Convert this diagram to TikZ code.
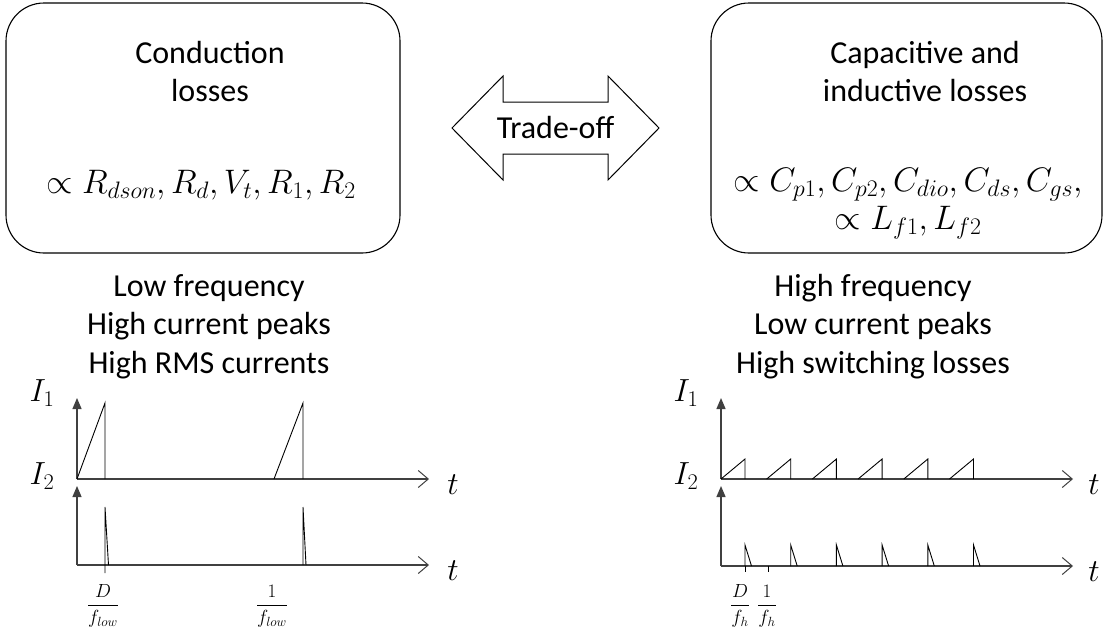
\RequirePackage{fix-cm}
\documentclass[tikz,border=0pt]{standalone}
\usepackage{amsmath,amssymb}
\usepackage{fontspec}
\setmainfont{Carlito}
\usepackage{tikz}
\usetikzlibrary{calc,positioning,arrows.meta}

\begin{document}
\begin{tikzpicture}[x=1pt,y=-1pt,>=Latex]
  \tikzset{
    lossbox/.style={draw=black,line width=1.1pt,rounded corners=38pt,minimum width=394pt,minimum height=250pt,inner sep=0pt},
    txt/.style={font=\fontsize{32}{38.5}\selectfont,align=center,inner sep=0pt},
    big/.style={font=\fontsize{34}{38}\selectfont,align=center,inner sep=0pt},
    lbl/.style={font=\fontsize{32}{38}\selectfont,inner sep=0pt},
    small/.style={font=\fontsize{19}{22}\selectfont,inner sep=0pt},
    axis/.style={draw=black!75,line width=1.3pt},
    yaxis/.style={axis,-{Triangle[width=9pt,length=11pt]}},
    xaxis/.style={axis,-{Straight Barb[width=17pt,length=10pt,line width=1pt]}},
    wave/.style={draw=black,line width=0.9pt},
  }
  \useasboundingbox (0,0) rectangle (1107,630);

  % loss boxes
  \node[lossbox] (condbox) at (203,128) {};
  \node[lossbox,minimum width=391pt] (capbox) at (906.5,128) {};
  \node[txt] (condtitle) at (210,71.5) {Conduction\\losses};
  \node[big] (condform) at (201,185) {$\propto R_{dson},R_d,V_t,R_1,R_2$};
  \node[txt] (captitle) at (925,71.5) {Capacitive and\\inductive losses};
  \node[big] (capform) at (908,203.5) {$\propto C_{p1},C_{p2},C_{dio},C_{ds},C_{gs},$\\$\propto L_{f1},L_{f2}$};

  % trade-off arrow
  \node[txt] (trade) at (555.5,128) {Trade-off};
  \draw[line width=1pt] ($(trade)+(-103.5,0)$) -- ($(trade)+(-52.5,-52)$) -- ($(trade)+(-52.5,-26)$)
    -- ($(trade)+(52.5,-26)$) -- ($(trade)+(52.5,-52)$) -- ($(trade)+(103.5,0)$)
    -- ($(trade)+(52.5,52)$) -- ($(trade)+(52.5,26)$) -- ($(trade)+(-52.5,26)$)
    -- ($(trade)+(-52.5,52)$) -- cycle;

  % captions
  \node[txt] (lowcap) at (209,326.5) {Low frequency\\High current peaks\\High RMS currents};
  \node[txt] (highcap) at (873,326.5) {High frequency\\Low current peaks\\High switching losses};

  % low frequency waveforms
  \coordinate (la) at (77,479); \coordinate (lb) at (77,565);
  \draw[yaxis] (la) -- (77,398); \draw[xaxis] (la) -- (429,479);
  \draw[yaxis] (lb) -- (77,486); \draw[xaxis] (lb) -- (429,565);
  \node[lbl] (li1) at (42,393) {$I_1$}; \node[lbl] (li2) at (42,476) {$I_2$};
  \node[lbl] (lt1) at (453,485) {$t$}; \node[lbl] (lt2) at (453,571) {$t$};
  \draw[wave] (la) -- (105,403) -- (105,479);
  \draw[wave] (274,479) -- (303,403) -- (303,479);
  \draw[wave] (105,573) -- (105,507) -- (108.5,565);
  \draw[wave] (303,565) -- (303,507) -- (306,565);
  \node[small] (ld) at (103,606) {$\dfrac{D}{f_{low}}$};
  \node[small] (lp) at (272,606) {$\dfrac{1}{f_{low}}$};

  % high frequency waveforms
  \coordinate (ha) at (721,479); \coordinate (hb) at (721,566);
  \draw[yaxis] (ha) -- (721,398); \draw[xaxis] (ha) -- (1073,479);
  \draw[yaxis] (hb) -- (721,486); \draw[xaxis] (hb) -- (1073,566);
  \node[lbl] (hi1) at (686,393) {$I_1$}; \node[lbl] (hi2) at (686,476) {$I_2$};
  \node[lbl] (ht1) at (1094,485) {$t$}; \node[lbl] (ht2) at (1094,572) {$t$};
  \foreach \k in {0,...,5}{
    \draw[wave] (721+45.7*\k,479) -- (745+45.7*\k,459) -- (745+45.7*\k,479);
    \draw[wave] (745+45.7*\k,566) -- (745+45.7*\k,545) -- (751.5+45.7*\k,566);
  }
  \draw[wave] (745,566) -- (745,572);
  \draw[wave] (768,566) -- (768,572);
  \node[small] (hd) at (740,606) {$\dfrac{D}{f_h}$};
  \node[small] (hp) at (767,606) {$\dfrac{1}{f_h}$};
\end{tikzpicture}
\end{document}
